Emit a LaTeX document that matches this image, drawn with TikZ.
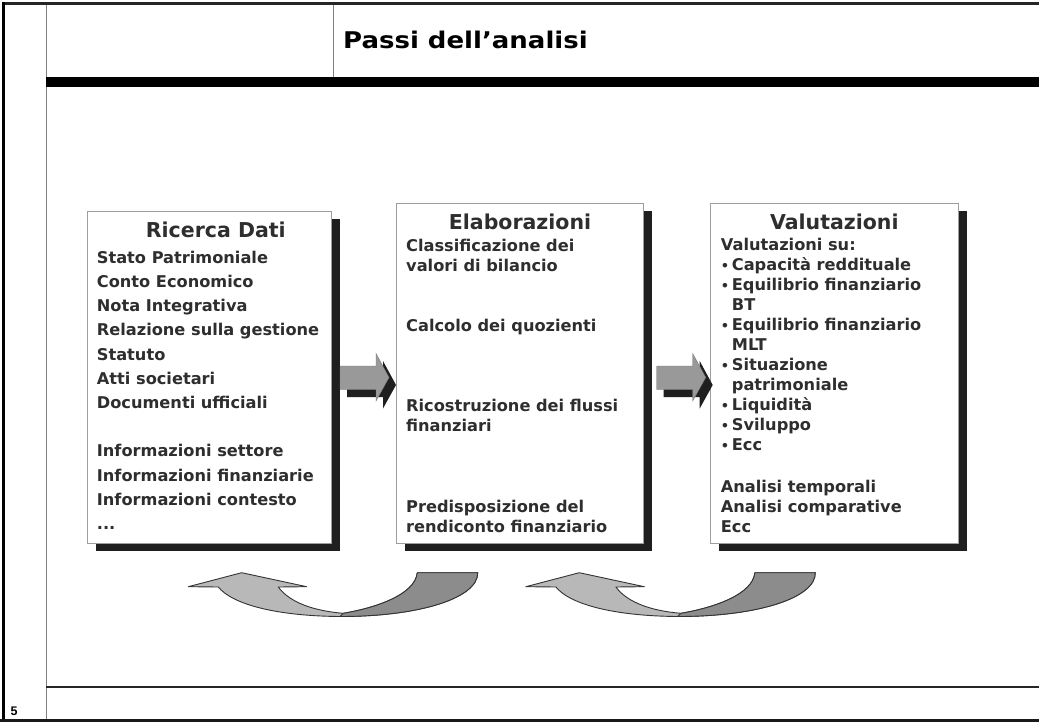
\documentclass[tikz,border=0pt]{standalone}
\usepackage{fontspec}
\usetikzlibrary{shadows}
\newfontfamily\dvs{DejaVu Sans}
\newfontfamily\headfont[FakeStretch=1.13]{DejaVu Sans}
\newfontfamily\pagenumfont{Liberation Sans}
\definecolor{textgray}{gray}{0.18}
\definecolor{boxedge}{gray}{0.62}
\definecolor{blockgray}{gray}{0.60}
\definecolor{curvelight}{gray}{0.72}
\definecolor{curvedark}{gray}{0.55}
\newcommand{\bul}{\makebox[11pt][l]{\raisebox{0.5pt}{\fontsize{13}{13}\selectfont •}}}
\newcommand{\cont}{\hspace*{11pt}}
\begin{document}
\begin{tikzpicture}[x=1pt,y=-1pt,
  panel/.style={draw=boxedge, line width=0.8pt, fill=white, anchor=north west, inner sep=0pt,
    drop shadow={shadow xshift=8.5pt, shadow yshift=-7.5pt, fill=black!88, opacity=1}},
  paneltitle/.style={anchor=base, inner sep=0pt, text=textgray, font=\dvs\bfseries\fontsize{20.5}{24}\selectfont},
  paneltext/.style={anchor=base west, inner sep=0pt, text=textgray},
  blockarrow/.style={fill=blockgray, draw=blockgray!80!black, line width=0.4pt},
  blockshadow/.style={fill=black!88},
  curveedge/.style={draw=black!80, line width=0.9pt, line join=round}]
\useasboundingbox (0,0) rectangle (1039,722);
\fill[white] (0,0) rectangle (1039,722);

% page frame
\draw[gray, line width=1.5pt] (46.7,3) -- (46.7,720);
\draw[gray, line width=1pt] (333.5,3) -- (333.5,78);
\draw[black!85, line width=2.5pt] (3,3.5) -- (1039,3.5);
\draw[black, line width=3pt] (3,2.5) -- (3,721.5);
\draw[black!90, line width=3pt] (0,720.5) -- (1039,720.5);
\fill[black] (46,77.3) rectangle (1039,87.3);
\draw[black!85, line width=1.2pt] (46,687) -- (1039,687);

\node[anchor=base west, inner sep=0pt, font=\headfont\bfseries\fontsize{23}{28}\selectfont] (title) at (343,48.3) {Passi dell’analisi};
\node[anchor=base west, inner sep=0pt, font=\pagenumfont\bfseries\fontsize{12.5}{14}\selectfont] (pagenum) at (10.5,715.3) {5};

% three panels
\node[panel, minimum width=244pt, minimum height=332pt] (ricerca) at (86.7,210.7) {};
\node[panel, minimum width=247pt, minimum height=340pt] (elab) at (395.7,203.3) {};
\node[panel, minimum width=247.7pt, minimum height=340pt] (valut) at (710,203.3) {};

\node[paneltitle] (ricercatitle) at (215.8,238) {Ricerca Dati};
\node[paneltitle] (elabtitle) at (520,230) {Elaborazioni};
\node[paneltitle] (valuttitle) at (834.3,229.3) {Valutazioni};

\node[paneltext] (ricercatext) at (96.7,263.3) {\parbox[t]{230pt}{\raggedright\dvs\bfseries\fontsize{16.2}{24.2}\selectfont
Stato Patrimoniale\\
Conto Economico\\
Nota Integrativa\\
Relazione sulla gestione\\
Statuto\\
Atti societari\\
Documenti ufficiali\\[24.2pt]
Informazioni settore\\
Informazioni finanziarie\\
Informazioni contesto\\
...}};

\node[paneltext] (elabtext) at (406,251.7) {\parbox[t]{232pt}{\raggedright\dvs\bfseries\fontsize{16.2}{20}\selectfont
Classificazione dei\\
valori di bilancio\\[40pt]
Calcolo dei quozienti\\[60pt]
Ricostruzione dei flussi\\
finanziari\\[61pt]
Predisposizione del\\
rendiconto finanziario}};

\node[paneltext] (valuttext) at (720.7,251) {\parbox[t]{232pt}{\raggedright\dvs\bfseries\fontsize{16.2}{20}\selectfont
Valutazioni su:\\
\bul Capacità reddituale\\
\bul Equilibrio finanziario\\
\cont BT\\
\bul Equilibrio finanziario\\
\cont MLT\\
\bul Situazione\\
\cont patrimoniale\\
\bul Liquidità\\
\bul Sviluppo\\
\bul Ecc\\[22pt]
Analisi temporali\\
Analisi comparative\\
Ecc}};

% block arrows between the panels
\foreach \dx in {0,316.7} {
  \begin{scope}[xshift=\dx pt]
    \fill[blockshadow] (347,373.5) -- (383,373.5) -- (383,361) -- (396,385) -- (383,408.5) -- (383,397) -- (347,397) -- cycle;
    \path[blockarrow] (340,366) -- (376,366) -- (376,353.5) -- (389,377.5) -- (376,401) -- (376,389.5) -- (340,389.5) -- cycle;
  \end{scope}
}

% curved return arrows
\foreach \dx in {0,337.6} {
  \begin{scope}[xshift=\dx pt]
    \path[fill=curvelight, curveedge] (241.7,572.7) -- (306.7,586.7) -- (278.3,587)
      .. controls (290,603) and (315,611) .. (343.3,613.3)
      .. controls (375,608) and (415,595) .. (417.3,572.7)
      -- (477.7,572.7)
      .. controls (478,598) and (420,616.5) .. (340,616.5)
      .. controls (275,616) and (232,604) .. (218.3,587)
      -- (188.3,586.7) -- cycle;
    \path[fill=curvedark, curveedge] (343.3,613.3)
      .. controls (375,608) and (415,595) .. (417.3,572.7)
      -- (477.7,572.7)
      .. controls (478,598) and (420,616.5) .. (340,616.5)
      -- cycle;
  \end{scope}
}
\end{tikzpicture}
\end{document}
